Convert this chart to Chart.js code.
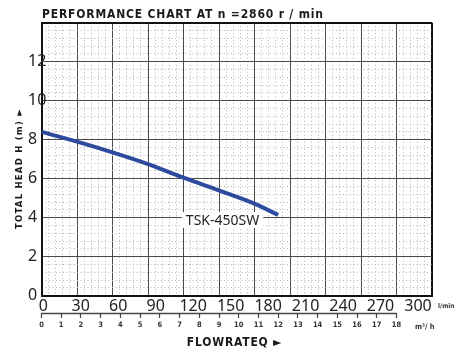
<!DOCTYPE html>
<html>
<head>
<meta charset="utf-8">
<script src="https://cdn.jsdelivr.net/npm/chart.js@4.4.1/dist/chart.umd.min.js"></script>
<style>
    html, body { margin: 0; padding: 0; background: #ffffff; }
    #contenedor { width: 458px; height: 350px; }
</style>
</head>
<body>
<div id="contenedor"><canvas id="graficaBomba"></canvas></div>
<script>
/* ==========================================================================
   DATOS DE LA CURVA (caudal l/min  ->  altura manométrica m)
   ========================================================================== */
const caudal = [0, 30, 60, 90, 120, 150, 180, 200];
const altura = [8.4, 7.9, 7.35, 6.75, 6.05, 5.4, 4.72, 4.14];
const modelo = 'TSK-450SW';

const ticksCaudal = [0, 30, 60, 90, 120, 150, 180, 210, 240, 270, 300];
const ticksM3h = [0, 1, 2, 3, 4, 5, 6, 7, 8, 9, 10, 11, 12, 13, 14, 15, 16, 17, 18];
const ticksAltura = [0, 2, 4, 6, 8, 10, 12];

const tituloGrafica = 'PERFORMANCE CHART AT n =2860 r / min';
const tituloEjeY = 'TOTAL HEAD H (m) \u25BA';
const tituloEjeX = 'FLOWRATEQ \u25BA';

const COLOR_CURVA = '#2d4b9e';
const FUENTE_COND = "'Liberation Sans Narrow', 'DejaVu Sans Condensed', sans-serif";
const FUENTE_TICKS = "'Noto Sans', 'Open Sans', sans-serif";

/* ==========================================================================
   AUXILIARES
   ========================================================================== */
function fijarTicks(lista) {
    return (escala) => { escala.ticks = lista.map(v => ({ value: v })); };
}

function ticksMenores(paso, pasoMayor, max) {
    return (escala) => {
        const t = [];
        for (let i = 0; i * paso <= max + 1e-9; i++) {
            const v = +(i * paso).toFixed(4);
            if (Math.abs(v / pasoMayor - Math.round(v / pasoMayor)) > 1e-6) t.push({ value: v });
        }
        escala.ticks = t;
    };
}

// texto estirado con espaciado de letras hasta el ancho indicado
function textoEspaciado(ctx, texto, x, y, ancho) {
    ctx.letterSpacing = '0px';
    const w = ctx.measureText(texto).width;
    const extra = (ancho - w) / (texto.length - 1);
    ctx.letterSpacing = extra + 'px';
    ctx.fillText(texto, x, y);
    ctx.letterSpacing = '0px';
}

/* ==========================================================================
   ROTULOS DIBUJADOS SOBRE EL LIENZO
   ========================================================================== */
const rotulos = {
    id: 'rotulos',
    afterDraw(chart) {
        const ctx = chart.ctx;
        const { x, y, xl, xm } = chart.scales;
        ctx.save();
        ctx.fillStyle = '#1a1a1a';

        // título superior
        ctx.font = 'bold 12px ' + FUENTE_COND;
        ctx.textAlign = 'left';
        ctx.textBaseline = 'alphabetic';
        textoEspaciado(ctx, tituloGrafica, 42, 17.8, 281);

        // título vertical
        ctx.save();
        ctx.translate(19.5, 168.5);
        ctx.rotate(-Math.PI / 2);
        ctx.font = 'bold 9.5px ' + FUENTE_COND;
        ctx.textAlign = 'center';
        ctx.textBaseline = 'middle';
        ctx.letterSpacing = '1.2px';
        ctx.fillText(tituloEjeY, 0, 0);
        ctx.restore();

        // título horizontal
        ctx.font = 'bold 12px ' + FUENTE_COND;
        ctx.textAlign = 'center';
        ctx.textBaseline = 'middle';
        ctx.letterSpacing = '0.8px';
        ctx.fillText(tituloEjeX, 234.5, 342.5);
        ctx.letterSpacing = '0px';

        // valores de altura, alineados a la izquierda
        ctx.fillStyle = '#222';
        ctx.font = '16px ' + FUENTE_TICKS;
        ctx.textAlign = 'left';
        ctx.textBaseline = 'middle';
        ticksAltura.forEach(v => ctx.fillText(String(v), 28, y.getPixelForValue(v)));

        // valores de caudal en l/min
        ctx.textAlign = 'center';
        ticksCaudal.forEach(v => ctx.fillText(String(v), xl.getPixelForValue(v), xl.top + 10.5));

        // línea de la escala m3/h
        ctx.strokeStyle = '#444';
        ctx.lineWidth = 1.3;
        ctx.beginPath();
        ctx.moveTo(xm.getPixelForValue(ticksM3h[0]), xm.top + 0.5);
        ctx.lineTo(xm.getPixelForValue(ticksM3h[ticksM3h.length - 1]), xm.top + 0.5);
        ctx.stroke();

        // unidades
        ctx.fillStyle = '#333';
        ctx.textAlign = 'left';
        ctx.font = 'bold 6.5px ' + FUENTE_COND;
        ctx.fillText('l/min', chart.chartArea.right + 6, 306.5);
        ctx.font = 'bold 7.5px ' + FUENTE_COND;
        ctx.fillText('m\u00B3/ h', chart.chartArea.right - 17, 327);

        // etiqueta del modelo junto al final de la curva
        const px = x.getPixelForValue(153);
        const py = y.getPixelForValue(3.88);
        ctx.font = '14px ' + FUENTE_TICKS;
        const w = ctx.measureText(modelo).width;
        ctx.fillStyle = '#ffffff';
        ctx.fillRect(px - w / 2 - 4, py - 8, w + 8, 16);
        ctx.fillStyle = '#222';
        ctx.textAlign = 'center';
        ctx.textBaseline = 'middle';
        ctx.fillText(modelo, px, py + 0.5);

        ctx.restore();
    }
};

/* ==========================================================================
   GRAFICA
   ========================================================================== */
const gridMayor = (max) => ({
    drawTicks: false,
    color: (c) => (c.tick && Math.abs(c.tick.value - max) < 1e-6) ? '#111' : '#4a4a4a',
    lineWidth: (c) => (c.tick && Math.abs(c.tick.value - max) < 1e-6) ? 2 : 1
});

const gridMenor = { drawTicks: false, color: '#b4b4b4', lineWidth: 1 };
const bordeMenor = { display: false, dash: [1, 2.5] };

new Chart(document.getElementById('graficaBomba'), {
    type: 'line',
    data: {
        datasets: [{
            label: modelo,
            data: caudal.map((q, i) => ({ x: q, y: altura[i] })),
            borderColor: COLOR_CURVA,
            borderWidth: 4,
            pointRadius: 0,
            fill: false,
            cubicInterpolationMode: 'monotone',
            xAxisID: 'x',
            yAxisID: 'y'
        }]
    },
    options: {
        responsive: true,
        maintainAspectRatio: false,
        animation: false,
        events: [],
        layout: { padding: { left: 0, right: 26, top: 22.7, bottom: 0 } },
        plugins: { legend: { display: false }, tooltip: { enabled: false }, title: { display: false } },
        scales: {
            x: {
                type: 'linear', position: 'bottom', weight: 0,
                min: 0, max: 330,
                afterBuildTicks: (s) => { s.ticks = ticksCaudal.concat([330]).map(v => ({ value: v })); },
                afterFit: (s) => { s.height = 0; },
                ticks: { display: false },
                grid: gridMayor(330),
                border: { color: '#111', width: 2 }
            },
            xMenor: {
                type: 'linear', position: 'bottom', weight: 1,
                min: 0, max: 330,
                afterBuildTicks: ticksMenores(6, 30, 330),
                afterFit: (s) => { s.height = 0; },
                ticks: { display: false },
                grid: gridMenor,
                border: bordeMenor
            },
            xl: {
                type: 'linear', position: 'bottom', weight: 2,
                min: -1.4, max: 311.2,
                afterBuildTicks: fijarTicks(ticksCaudal),
                afterFit: (s) => { s.height = 17.3; },
                ticks: { display: false },
                grid: { display: false },
                border: { display: false }
            },
            xm: {
                type: 'linear', position: 'bottom', weight: 3,
                min: 0, max: 19.8,
                afterBuildTicks: fijarTicks(ticksM3h),
                afterFit: (s) => { s.height = 37; },
                ticks: { color: '#333', font: { family: FUENTE_COND, size: 7.5, weight: 'bold' }, padding: 3, maxRotation: 0, autoSkip: false },
                grid: { drawOnChartArea: false, drawTicks: true, tickLength: 5, tickColor: '#444', tickWidth: 1.2 },
                border: { display: false }
            },
            y: {
                type: 'linear', position: 'left', weight: 0,
                min: 0, max: 14,
                afterBuildTicks: (s) => { s.ticks = ticksAltura.concat([14]).map(v => ({ value: v })); },
                afterFit: (s) => { s.width = 41.5; },
                ticks: { display: false },
                grid: gridMayor(14),
                border: { color: '#111', width: 2 }
            },
            yMenor: {
                type: 'linear', position: 'left', weight: 1,
                min: 0, max: 14,
                afterBuildTicks: ticksMenores(0.4, 2, 14),
                afterFit: (s) => { s.width = 0; },
                ticks: { display: false },
                grid: gridMenor,
                border: bordeMenor
            }
        }
    },
    plugins: [rotulos]
});
</script>
</body>
</html>
